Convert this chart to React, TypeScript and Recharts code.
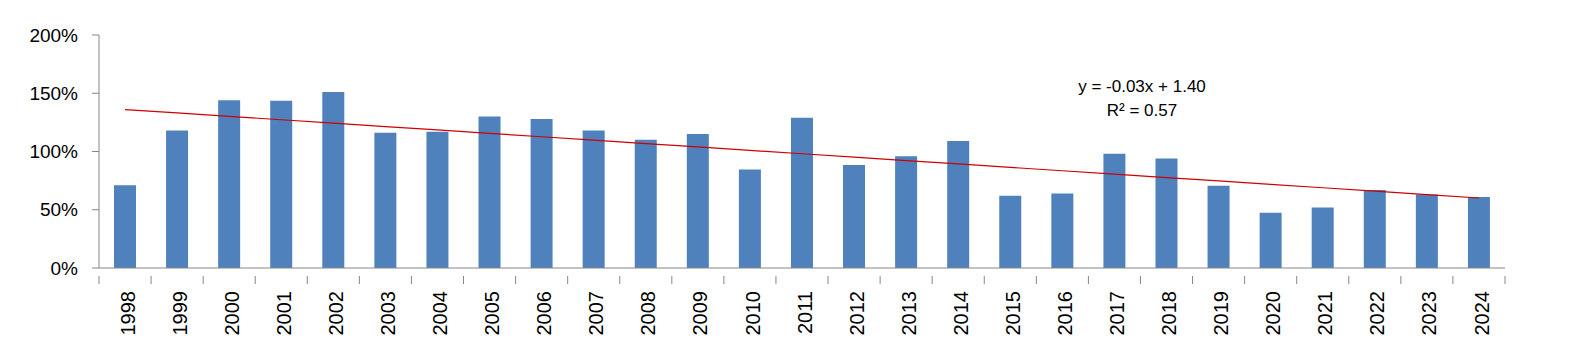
import React from 'react';
import { ComposedChart, Bar, Line, XAxis, YAxis } from 'recharts';

const years = ['1998', '1999', '2000', '2001', '2002', '2003', '2004', '2005', '2006', '2007', '2008', '2009', '2010', '2011', '2012', '2013', '2014', '2015', '2016', '2017', '2018', '2019', '2020', '2021', '2022', '2023', '2024'];
const ratios = [71, 118, 144, 143.5, 151, 116, 117, 130, 128, 118, 110, 115, 84.5, 129, 88.5, 96, 109, 62, 64, 98, 94, 70.5, 47.5, 52, 67, 63, 61];
const yTicks = [0, 50, 100, 150, 200];
const equationText = 'y = -0.03x + 1.40';
const r2Text = 'R² = 0.57';

// least-squares trend line (as the spreadsheet trendline)
const n = ratios.length;
const xMean = (n + 1) / 2;
const yMean = ratios.reduce((a, b) => a + b, 0) / n;
let sxy = 0;
let sxx = 0;
ratios.forEach((v, i) => {
  const dx = i + 1 - xMean;
  sxy += dx * (v - yMean);
  sxx += dx * dx;
});
const slope = sxy / sxx;
const intercept = yMean - slope * xMean;

const data = years.map((year, i) => ({
  year,
  value: ratios[i],
  trend: intercept + slope * (i + 1),
}));

const FONT = '"Liberation Sans", Arial, sans-serif';
const AXIS = '#868686';

const XTick = (props: any) => {
  const { x, y, payload, width, visibleTicksCount, index } = props;
  const step = width / visibleTicksCount;
  return (
    <g>
      <line x1={x - step / 2} x2={x - step / 2} y1={y} y2={y + 8} stroke={AXIS} strokeWidth={1} />
      {index === visibleTicksCount - 1 && (
        <line x1={x + step / 2} x2={x + step / 2} y1={y} y2={y + 8} stroke={AXIS} strokeWidth={1} />
      )}
      <text
        x={x}
        y={y + 15}
        transform={`rotate(-90, ${x}, ${y + 15})`}
        textAnchor="end"
        dy="0.48em"
        fontSize={20}
        fontFamily={FONT}
        fill="#000"
      >
        {payload.value}
      </text>
    </g>
  );
};

export default function App() {
  return (
    <div style={{ position: 'relative', width: 1566, height: 340 }}>
      <ComposedChart
        width={1566}
        height={340}
        data={data}
        margin={{ top: 27, right: 69, bottom: 20, left: 11 }}
      >
        <XAxis
          dataKey="year"
          interval={0}
          height={60}
          tickLine={false}
          axisLine={{ stroke: AXIS, strokeWidth: 1 }}
          tick={<XTick />}
        />
        <YAxis
          width={80}
          domain={[0, 200]}
          ticks={yTicks}
          interval={0}
          tickFormatter={(v: number) => `${v}%`}
          tickSize={7}
          tickMargin={14}
          axisLine={{ stroke: AXIS, strokeWidth: 1 }}
          tickLine={{ stroke: AXIS, strokeWidth: 1 }}
          tick={{ fill: '#000', fontSize: 19, fontFamily: FONT }}
        />
        <Bar dataKey="value" fill="#4F81BD" barSize={22} isAnimationActive={false} />
        <Line
          dataKey="trend"
          type="linear"
          stroke="#D00000"
          strokeWidth={1.2}
          dot={false}
          activeDot={false}
          isAnimationActive={false}
        />
      </ComposedChart>
      <div
        style={{
          position: 'absolute',
          left: 1034,
          top: 67,
          width: 200,
          textAlign: 'center',
          fontFamily: FONT,
          fontSize: 17,
          lineHeight: '24px',
          color: '#000',
        }}
      >
        <div>{equationText}</div>
        <div>{r2Text}</div>
      </div>
    </div>
  );
}
